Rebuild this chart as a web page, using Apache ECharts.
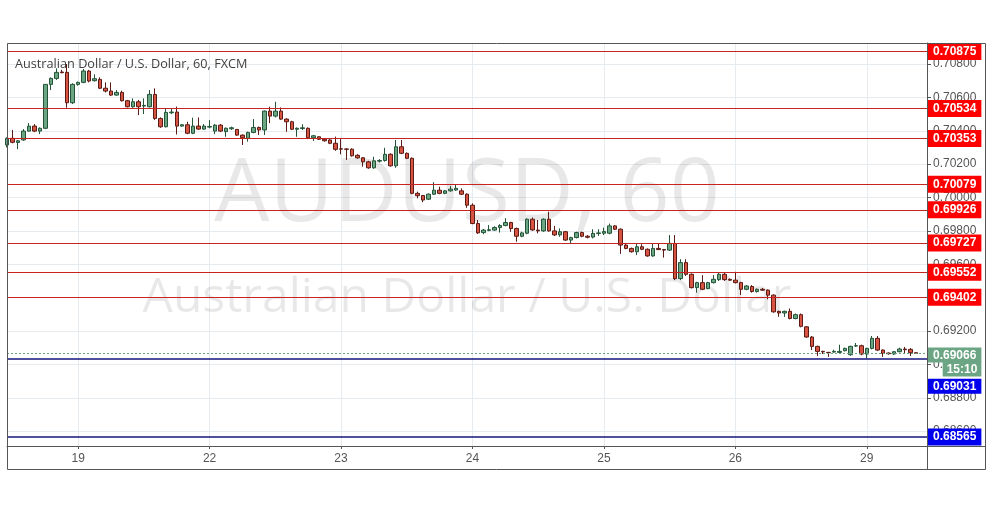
<!DOCTYPE html>
<html>
<head>
<meta charset="utf-8">
<script src="https://cdn.jsdelivr.net/npm/echarts@6/dist/echarts.min.js"></script>
<style>
html,body{margin:0;padding:0;background:#ffffff;}
#chart{width:991px;height:507px;}
</style>
</head>
<body>
<div id="chart"></div>
<script>
// ---- categories (hourly bars) ----
const days = ['18', '19', '22', '23', '24', '25', '26', '29'];
const firstDayStartHour = 11;
const lastDayBarCount = 12;

// ---- OHLC values ----
const open = [
  0.70315,0.70355,0.70330,0.70345,0.70398,0.70428,0.70398,0.70415,0.70678,0.70714,
  0.70752,0.70750,0.70568,0.70678,0.70690,0.70758,0.70700,0.70708,0.70655,0.70638,
  0.70614,0.70630,0.70580,0.70544,0.70574,0.70548,0.70544,0.70618,0.70474,0.70424,
  0.70508,0.70512,0.70428,0.70436,0.70385,0.70428,0.70410,0.70422,0.70398,0.70434,
  0.70395,0.70412,0.70408,0.70374,0.70355,0.70390,0.70420,0.70405,0.70518,0.70488,
  0.70518,0.70470,0.70454,0.70409,0.70413,0.70415,0.70358,0.70364,0.70350,0.70345,
  0.70325,0.70292,0.70291,0.70290,0.70253,0.70238,0.70214,0.70178,0.70218,0.70222,
  0.70259,0.70190,0.70304,0.70265,0.70235,0.70025,0.70012,0.69990,0.70020,0.70044,
  0.70025,0.70040,0.70045,0.70040,0.70020,0.69954,0.69844,0.69790,0.69803,0.69805,
  0.69820,0.69832,0.69850,0.69814,0.69768,0.69786,0.69870,0.69805,0.69800,0.69870,
  0.69800,0.69776,0.69795,0.69745,0.69760,0.69790,0.69768,0.69763,0.69784,0.69786,
  0.69786,0.69830,0.69810,0.69715,0.69695,0.69675,0.69705,0.69690,0.69650,0.69695,
  0.69688,0.69685,0.69725,0.69514,0.69610,0.69540,0.69460,0.69490,0.69455,0.69490,
  0.69508,0.69540,0.69510,0.69505,0.69490,0.69450,0.69467,0.69437,0.69450,0.69445,
  0.69415,0.69318,0.69308,0.69318,0.69275,0.69298,0.69225,0.69164,0.69108,0.69078,
  0.69072,0.69074,0.69072,0.69082,0.69058,0.69110,0.69112,0.69062,0.69096,0.69156,
  0.69086,0.69068,0.69062,0.69076,0.69092,0.69090,0.69070
];
const close = [
  0.70355,0.70331,0.70340,0.70398,0.70428,0.70398,0.70415,0.70678,0.70714,0.70750,
  0.70748,0.70568,0.70678,0.70690,0.70758,0.70698,0.70712,0.70655,0.70638,0.70614,
  0.70630,0.70580,0.70544,0.70574,0.70544,0.70552,0.70618,0.70474,0.70424,0.70510,
  0.70512,0.70428,0.70436,0.70385,0.70428,0.70410,0.70428,0.70426,0.70434,0.70398,
  0.70415,0.70418,0.70374,0.70358,0.70390,0.70420,0.70405,0.70518,0.70488,0.70518,
  0.70470,0.70454,0.70409,0.70415,0.70418,0.70358,0.70370,0.70349,0.70340,0.70325,
  0.70289,0.70290,0.70289,0.70250,0.70238,0.70214,0.70178,0.70220,0.70222,0.70259,
  0.70190,0.70304,0.70265,0.70235,0.70025,0.70011,0.69985,0.70020,0.70044,0.70025,
  0.70040,0.70050,0.70055,0.70020,0.69954,0.69844,0.69788,0.69805,0.69807,0.69820,
  0.69832,0.69850,0.69814,0.69768,0.69788,0.69870,0.69806,0.69800,0.69870,0.69800,
  0.69776,0.69795,0.69745,0.69760,0.69790,0.69768,0.69762,0.69785,0.69788,0.69796,
  0.69830,0.69810,0.69715,0.69695,0.69675,0.69705,0.69690,0.69650,0.69695,0.69688,
  0.69685,0.69725,0.69514,0.69610,0.69540,0.69460,0.69490,0.69450,0.69490,0.69510,
  0.69540,0.69508,0.69505,0.69490,0.69450,0.69470,0.69437,0.69450,0.69445,0.69415,
  0.69315,0.69308,0.69318,0.69275,0.69298,0.69228,0.69164,0.69108,0.69078,0.69075,
  0.69070,0.69078,0.69078,0.69096,0.69108,0.69112,0.69062,0.69096,0.69156,0.69086,
  0.69066,0.69064,0.69076,0.69092,0.69088,0.69070,0.69066
];
const low = [
  0.70300,0.70325,0.70290,0.70340,0.70395,0.70392,0.70380,0.70410,0.70644,0.70705,
  0.70745,0.70538,0.70560,0.70670,0.70685,0.70690,0.70695,0.70650,0.70630,0.70608,
  0.70610,0.70575,0.70540,0.70538,0.70494,0.70500,0.70540,0.70465,0.70418,0.70420,
  0.70500,0.70378,0.70425,0.70380,0.70380,0.70405,0.70405,0.70415,0.70380,0.70392,
  0.70364,0.70405,0.70370,0.70315,0.70335,0.70385,0.70375,0.70375,0.70446,0.70480,
  0.70465,0.70394,0.70405,0.70364,0.70405,0.70350,0.70339,0.70345,0.70335,0.70320,
  0.70280,0.70259,0.70225,0.70245,0.70232,0.70185,0.70172,0.70172,0.70210,0.70215,
  0.70185,0.70178,0.70260,0.70230,0.70020,0.69995,0.69972,0.69985,0.70015,0.70020,
  0.70020,0.70035,0.70040,0.70015,0.69938,0.69840,0.69782,0.69780,0.69798,0.69800,
  0.69790,0.69828,0.69795,0.69735,0.69762,0.69780,0.69800,0.69785,0.69795,0.69795,
  0.69770,0.69765,0.69740,0.69725,0.69755,0.69762,0.69755,0.69755,0.69770,0.69775,
  0.69780,0.69805,0.69662,0.69690,0.69670,0.69655,0.69685,0.69645,0.69645,0.69685,
  0.69640,0.69680,0.69505,0.69505,0.69530,0.69455,0.69430,0.69445,0.69450,0.69485,
  0.69500,0.69500,0.69500,0.69485,0.69416,0.69445,0.69430,0.69430,0.69440,0.69390,
  0.69310,0.69285,0.69285,0.69270,0.69270,0.69222,0.69160,0.69086,0.69050,0.69062,
  0.69045,0.69070,0.69068,0.69078,0.69052,0.69105,0.69055,0.69036,0.69090,0.69080,
  0.69045,0.69058,0.69058,0.69072,0.69068,0.69050,0.69062
];
const high = [
  0.70360,0.70405,0.70345,0.70410,0.70446,0.70440,0.70420,0.70680,0.70720,0.70774,
  0.70765,0.70800,0.70685,0.70695,0.70770,0.70765,0.70738,0.70720,0.70690,0.70690,
  0.70644,0.70640,0.70585,0.70594,0.70585,0.70594,0.70644,0.70654,0.70480,0.70534,
  0.70534,0.70545,0.70440,0.70454,0.70478,0.70480,0.70440,0.70464,0.70440,0.70440,
  0.70420,0.70425,0.70410,0.70378,0.70395,0.70470,0.70425,0.70522,0.70544,0.70574,
  0.70540,0.70475,0.70460,0.70420,0.70439,0.70420,0.70375,0.70368,0.70355,0.70350,
  0.70365,0.70350,0.70295,0.70295,0.70260,0.70242,0.70220,0.70244,0.70230,0.70298,
  0.70265,0.70345,0.70345,0.70270,0.70240,0.70035,0.70015,0.70025,0.70092,0.70065,
  0.70045,0.70070,0.70080,0.70055,0.70025,0.69965,0.69865,0.69812,0.69835,0.69828,
  0.69840,0.69876,0.69855,0.69820,0.69795,0.69875,0.69880,0.69865,0.69875,0.69915,
  0.69830,0.69815,0.69800,0.69765,0.69795,0.69795,0.69775,0.69810,0.69810,0.69820,
  0.69844,0.69835,0.69815,0.69725,0.69700,0.69725,0.69720,0.69695,0.69722,0.69722,
  0.69692,0.69775,0.69775,0.69630,0.69630,0.69545,0.69495,0.69535,0.69495,0.69535,
  0.69550,0.69550,0.69515,0.69555,0.69495,0.69475,0.69475,0.69455,0.69458,0.69450,
  0.69420,0.69322,0.69322,0.69335,0.69305,0.69305,0.69230,0.69170,0.69112,0.69082,
  0.69075,0.69088,0.69118,0.69100,0.69112,0.69128,0.69118,0.69100,0.69170,0.69170,
  0.69090,0.69072,0.69080,0.69100,0.69105,0.69098,0.69072
];

// ---- horizontal levels and texts ----
const redLevels = [0.70875, 0.70534, 0.70353, 0.70079, 0.69926, 0.69727, 0.69552, 0.69402];
const blueLevels = [0.69031, 0.68565];
const lastPrice = 0.69066;
const countdownText = '15:10';
const titleText = 'Australian Dollar / U.S. Dollar, 60, FXCM';
const watermarkSymbol = 'AUDUSD, 60';
const watermarkName = 'Australian Dollar / U.S. Dollar';
const priceMin = 0.68511;
const priceMax = 0.70926;
const priceStep = 0.002;

// ---- build ----
const categories = [];
days.forEach(function (d, k) {
  const start = k === 0 ? firstDayStartHour : 0;
  const end = k === days.length - 1 ? lastDayBarCount : 24;
  for (let h = start; h < end; h++) {
    categories.push(d + ' ' + String(h).padStart(2, '0') + ':00');
  }
});
const candles = open.map(function (o, i) { return [o, close[i], low[i], high[i]]; });
const isDayStart = function (i, v) { return String(v).slice(-5) === '00:00'; };
const fmt5 = function (v) { return Number(v).toFixed(5); };

const LABEL_FONT = 'Liberation Sans';
const UP = '#6ba583', DOWN = '#d75442';
const GREEN_BOX = '#6ba583';

const boxStyle = function (bg) {
  return { backgroundColor: bg, color: '#ffffff', fontWeight: 'bold', fontSize: 12,
           fontFamily: LABEL_FONT, padding: [2, 5, 1, 5], lineHeight: 14 };
};

const markData = [];
redLevels.forEach(function (v) {
  markData.push({
    yAxis: v,
    lineStyle: { color: '#c62323', width: 1, type: 'solid' },
    label: Object.assign({ show: true, position: 'end', distance: 1,
      formatter: function (p) { return fmt5(p.value); } }, boxStyle('#ff0000'))
  });
});
// first blue level: label pushed below the countdown box
markData.push({
  yAxis: blueLevels[0],
  lineStyle: { color: '#14147a', width: 1.5, type: 'solid' },
  label: { show: true, position: 'end', distance: 1,
    formatter: function (p) { return '{s|0}\n{b|' + fmt5(p.value) + '}'; },
    rich: { s: { color: 'transparent', fontSize: 12, lineHeight: 54, height: 54 },
            b: boxStyle('#0000ee') } }
});
markData.push({
  yAxis: blueLevels[1],
  lineStyle: { color: '#14147a', width: 1.5, type: 'solid' },
  label: Object.assign({ show: true, position: 'end', distance: 1,
    formatter: function (p) { return fmt5(p.value); } }, boxStyle('#0000ee'))
});
markData.push({
  yAxis: lastPrice,
  lineStyle: { color: UP, width: 1, type: [2, 2] },
  label: { show: true, position: 'end', distance: 1,
    formatter: function (p) { return '{s|0}\n{p|' + fmt5(p.value) + '}\n{t|' + countdownText + '}'; },
    rich: { s: { color: 'transparent', fontSize: 12, lineHeight: 17, height: 14 },
            p: boxStyle(GREEN_BOX),
            t: Object.assign(boxStyle(GREEN_BOX), { align: 'right', padding: [2, 4, 1, 4] }) } }
});

const chart = echarts.init(document.getElementById('chart'), null, { renderer: 'canvas' });
chart.setOption({
  animation: false,
  backgroundColor: '#ffffff',
  title: {
    text: titleText, left: 10, top: 53,
    textStyle: { fontSize: 12.7, fontWeight: 'normal', color: '#3f3f3f', fontFamily: 'Open Sans' }
  },
  grid: { left: 7, right: 64, top: 43, bottom: 61, show: false },
  xAxis: {
    type: 'category', data: categories, boundaryGap: false,
    axisLine: { show: true, lineStyle: { color: '#555555' } },
    axisTick: { show: true, interval: isDayStart, length: 3, lineStyle: { color: '#555555' } },
    axisLabel: { interval: isDayStart, formatter: function (v) { return v.split(' ')[0]; },
                 color: '#555555', fontSize: 12, margin: 7, fontFamily: LABEL_FONT },
    splitLine: { show: true, interval: isDayStart, lineStyle: { color: '#e6ebef', width: 1 } }
  },
  yAxis: {
    type: 'value', position: 'right', min: priceMin, max: priceMax,
    splitNumber: 12, minInterval: priceStep, maxInterval: priceStep,
    axisLine: { show: true, lineStyle: { color: '#555555' } },
    axisTick: { show: true, length: 4, lineStyle: { color: '#555555' } },
    axisLabel: { showMinLabel: false, showMaxLabel: false, formatter: fmt5,
                 color: '#555555', fontSize: 12, margin: 6, fontFamily: LABEL_FONT },
    splitLine: { show: true, lineStyle: { color: '#e6ebef', width: 1 } }
  },
  graphic: [
    { type: 'text', z: 1, silent: true, x: 467, y: 196,
      style: { text: watermarkSymbol, font: '88px "Open Sans"', fill: 'rgba(0,0,0,0.09)',
               textAlign: 'center', textVerticalAlign: 'middle' } },
    { type: 'text', z: 1, silent: true, x: 467, y: 298,
      style: { text: watermarkName, font: '48px "Open Sans"', fill: 'rgba(0,0,0,0.09)',
               textAlign: 'center', textVerticalAlign: 'middle' } },
    { type: 'rect', z: 50, silent: true, shape: { x: 7.5, y: 43.5, width: 978, height: 426 },
      style: { fill: 'none', stroke: '#555555', lineWidth: 1 } },
    { type: 'line', z: 50, silent: true, shape: { x1: 927.5, y1: 43, x2: 927.5, y2: 470 },
      style: { stroke: '#555555', lineWidth: 1 } },
    { type: 'line', z: 50, silent: true, shape: { x1: 7, y1: 446.5, x2: 986, y2: 446.5 },
      style: { stroke: '#555555', lineWidth: 1 } }
  ],
  series: [{
    type: 'candlestick',
    data: candles,
    barWidth: 4,
    itemStyle: { color: UP, color0: DOWN, borderColor: '#225437', borderColor0: '#5b1a13', borderWidth: 1 },
    emphasis: { disabled: true },
    markLine: { symbol: ['none', 'none'], silent: true, animation: false, precision: 5,
                emphasis: { disabled: true }, data: markData }
  }]
});
</script>
</body>
</html>
